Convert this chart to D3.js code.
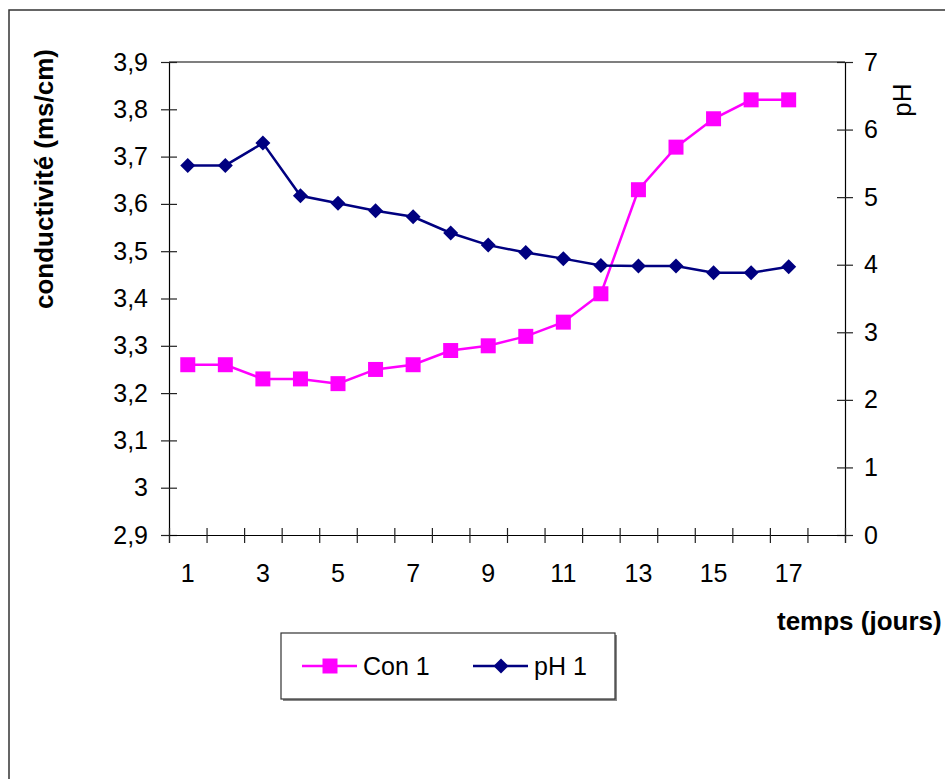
<!DOCTYPE html>
<html lang="fr">
<head>
    <meta charset="UTF-8">
    <title>Conductivité et pH</title>
    <style>
        body { margin: 0; background: #fff; }
        text { font-family: "Liberation Sans", Arial, sans-serif; }
    </style>
</head>
<body>
<svg id="svgId"></svg>
<script src="https://cdnjs.cloudflare.com/ajax/libs/d3/7.8.5/d3.min.js"></script>
<script>

    // Data
    const days = [1, 2, 3, 4, 5, 6, 7, 8, 9, 10, 11, 12, 13, 14, 15, 16, 17, 18]
    const con1 = [3.26, 3.26, 3.23, 3.23, 3.22, 3.25, 3.26, 3.29, 3.30, 3.32, 3.35, 3.41, 3.63, 3.72, 3.78, 3.82, 3.82]
    const ph1 = [5.47, 5.47, 5.80, 5.02, 4.91, 4.80, 4.71, 4.47, 4.29, 4.18, 4.09, 3.99, 3.98, 3.98, 3.88, 3.88, 3.97]
    const leftTicks = [2.9, 3.0, 3.1, 3.2, 3.3, 3.4, 3.5, 3.6, 3.7, 3.8, 3.9]
    const rightTicks = [0, 1, 2, 3, 4, 5, 6, 7]
    const seriesNames = ['Con 1', 'pH 1']

    const svgWidth = 945
    const svgHeight = 779
    const plot = {left: 169, top: 62, right: 845, bottom: 535}
    const conColor = '#ff00ff'
    const phColor = '#000080'

    const svg = d3.select('#svgId')
        .attr('width', svgWidth)
        .attr('height', svgHeight)

    // outer chart border (runs off the right and bottom edges)
    svg.append('rect')
        .attr('x', 9).attr('y', 10)
        .attr('width', 1000).attr('height', 900)
        .attr('fill', 'none')
        .attr('stroke', '#333')
        .attr('stroke-width', 1.5)

    // Scales
    const xBand = d3.scaleBand().domain(days).range([plot.left, plot.right]).padding(0)
    const xEdge = d3.scaleLinear().domain([0, days.length]).range([plot.left, plot.right])
    const yLeft = d3.scaleLinear().domain([2.9, 3.9]).range([plot.bottom, plot.top])
    const yRight = d3.scaleLinear().domain([0, 7]).range([plot.bottom, plot.top])
    const cx = d => xBand(d) + xBand.bandwidth() / 2

    const fmt = v => d3.format('.1~f')(v).replace('.', ',')

    // top border of plot area
    svg.append('line')
        .attr('x1', plot.left).attr('x2', plot.right)
        .attr('y1', plot.top).attr('y2', plot.top)
        .attr('stroke', '#000').attr('stroke-width', 1.2)

    // Left axis
    const gLeft = svg.append('g')
        .attr('transform', `translate(${plot.left},0)`)
        .call(d3.axisLeft(yLeft).tickValues(leftTicks).tickFormat(fmt).tickSize(8).tickPadding(13))
    gLeft.selectAll('.tick line').attr('x1', 8)

    // Right axis
    const gRight = svg.append('g')
        .attr('transform', `translate(${plot.right},0)`)
        .call(d3.axisRight(yRight).tickValues(rightTicks).tickFormat(d3.format('d')).tickSize(8).tickPadding(11))
    gRight.selectAll('.tick line').attr('x1', -8)

    // X axis: tick marks at category boundaries
    const gX = svg.append('g')
        .attr('transform', `translate(0,${plot.bottom})`)
        .call(d3.axisBottom(xEdge).tickValues(d3.range(0, days.length + 1)).tickFormat('').tickSize(8))
    gX.selectAll('.tick line').attr('y1', -7)

    // X labels: every other category
    svg.append('g')
        .attr('transform', `translate(0,${plot.bottom})`)
        .call(d3.axisBottom(xBand).tickValues(days.filter(d => d % 2 === 1)).tickSize(0).tickPadding(29))
        .call(g => g.select('.domain').remove())

    ;[gLeft, gRight, gX].forEach(g => {
        g.select('.domain').attr('stroke', '#000').attr('stroke-width', 1.2)
        g.selectAll('.tick line').attr('stroke', '#222').attr('stroke-width', 1.2)
    })
    svg.selectAll('.tick text')
        .attr('fill', '#000')
        .style('font-size', '25px')
        .style('font-family', '"Liberation Sans", Arial, sans-serif')

    // Axis titles
    svg.append('text')
        .attr('transform', 'translate(53,179) rotate(-90)')
        .attr('text-anchor', 'middle')
        .style('font-size', '26px')
        .style('font-weight', 'bold')
        .text('conductivité (ms/cm)')

    svg.append('text')
        .attr('transform', 'translate(911,100) rotate(-90)')
        .attr('text-anchor', 'middle')
        .style('font-size', '26px')
        .text('pH')

    svg.append('text')
        .attr('x', 777)
        .attr('y', 630)
        .style('font-size', '26px')
        .style('font-weight', 'bold')
        .text('temps (jours)')

    // Lines
    const conLine = d3.line().x((d, i) => cx(days[i])).y(d => yLeft(d))
    const phLine = d3.line().x((d, i) => cx(days[i])).y(d => yRight(d))

    svg.append('path')
        .datum(con1)
        .attr('fill', 'none')
        .attr('stroke', conColor)
        .attr('stroke-width', 2.5)
        .attr('d', conLine)

    svg.append('path')
        .datum(ph1)
        .attr('fill', 'none')
        .attr('stroke', phColor)
        .attr('stroke-width', 2.5)
        .attr('d', phLine)

    const square = d3.symbol().type(d3.symbolSquare).size(225)
    const diamond = 'M0,-7.5L7.5,0L0,7.5L-7.5,0Z'

    svg.selectAll('.conPt')
        .data(con1).enter()
        .append('path')
        .attr('class', 'conPt')
        .attr('transform', (d, i) => `translate(${cx(days[i])},${yLeft(d)})`)
        .attr('d', square)
        .attr('fill', conColor)

    svg.selectAll('.phPt')
        .data(ph1).enter()
        .append('path')
        .attr('class', 'phPt')
        .attr('transform', (d, i) => `translate(${cx(days[i])},${yRight(d)})`)
        .attr('d', diamond)
        .attr('fill', phColor)

    // Legend
    const legend = svg.append('g')
    legend.append('rect')
        .attr('x', 283).attr('y', 635)
        .attr('width', 334).attr('height', 66)
        .attr('fill', '#888')
    legend.append('rect')
        .attr('x', 281).attr('y', 633)
        .attr('width', 334).attr('height', 66)
        .attr('fill', '#fff')
        .attr('stroke', '#333')
        .attr('stroke-width', 1.2)

    const legendItems = [
        {name: seriesNames[0], x: 302, color: conColor, shape: square},
        {name: seriesNames[1], x: 473, color: phColor, shape: diamond}
    ]
    const ly = 666
    legendItems.forEach(it => {
        legend.append('line')
            .attr('x1', it.x).attr('x2', it.x + 55)
            .attr('y1', ly).attr('y2', ly)
            .attr('stroke', it.color).attr('stroke-width', 2.5)
        legend.append('path')
            .attr('transform', `translate(${it.x + 28},${ly})`)
            .attr('d', it.shape)
            .attr('fill', it.color)
        legend.append('text')
            .attr('x', it.x + 61)
            .attr('y', ly + 9)
            .style('font-size', '25px')
            .text(it.name)
    })

</script>
</body>
</html>
